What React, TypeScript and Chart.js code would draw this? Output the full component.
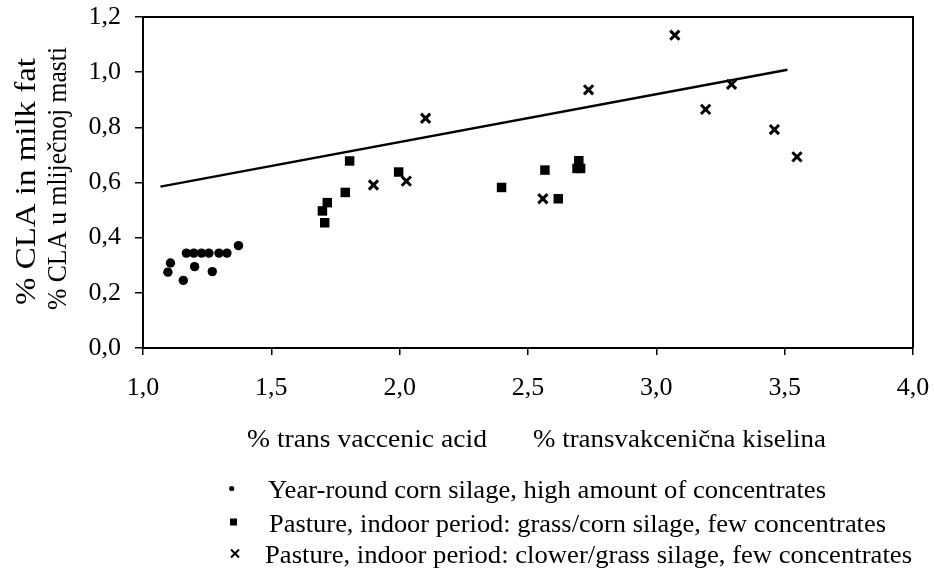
import React, { useEffect, useRef } from 'react';
import { Chart, registerables } from 'chart.js';

Chart.register(...registerables);

// Year-round corn silage, high amount of concentrates (dots)
const dotsX = [1.107, 1.097, 1.157, 1.169, 1.198, 1.228, 1.257, 1.296, 1.327, 1.201, 1.27, 1.372];
const dotsY = [0.308, 0.275, 0.245, 0.344, 0.344, 0.344, 0.344, 0.344, 0.344, 0.295, 0.277, 0.371];

// Pasture, indoor period: grass/corn silage (squares)
const squaresX = [1.805, 1.788, 1.718, 1.699, 1.708, 1.996, 2.397, 2.566, 2.618, 2.698, 2.691, 2.705];
const squaresY = [0.678, 0.564, 0.527, 0.497, 0.454, 0.638, 0.582, 0.645, 0.541, 0.679, 0.651, 0.651];

// Pasture, indoor period: clower/grass silage (crosses)
const crossesX = [1.898, 2.026, 2.101, 2.558, 2.736, 3.072, 3.192, 3.293, 3.46, 3.548];
const crossesY = [0.591, 0.605, 0.833, 0.541, 0.936, 1.134, 0.865, 0.956, 0.792, 0.693];

// Trend line end points
const trendX = [1.068, 3.511];
const trendY = [0.585, 1.009];

const xTickValues = [1.0, 1.5, 2.0, 2.5, 3.0, 3.5, 4.0];
const yTickValues = [0.0, 0.2, 0.4, 0.6, 0.8, 1.0, 1.2];

const yTitleLines = ['% CLA in milk fat', '% CLA u mliječnoj masti'];
const xTitleParts = ['% trans vaccenic acid', '% transvakcenična kiselina'];
const legendLabels = [
  'Year-round corn silage, high amount of concentrates',
  'Pasture, indoor period: grass/corn silage, few concentrates',
  'Pasture, indoor period: clower/grass silage, few concentrates',
];

const SERIF = '"Liberation Serif", "Times New Roman", serif';
const fmt = (v: number) => v.toFixed(1).replace('.', ',');
const toPts = (xs: number[], ys: number[]) => xs.map((x, i) => ({ x, y: ys[i] }));

function drawFitted(
  ctx: CanvasRenderingContext2D,
  text: string,
  x: number,
  y: number,
  target: number,
  font: string,
  align: CanvasTextAlign,
  rotate = false
) {
  ctx.save();
  ctx.font = font;
  const w = ctx.measureText(text).width;
  ctx.translate(x, y);
  if (rotate) ctx.rotate(-Math.PI / 2);
  ctx.textBaseline = 'alphabetic';
  ctx.fillStyle = '#000';
  ctx.scale(target / w, 1);
  ctx.textAlign = align;
  ctx.fillText(text, 0, 0);
  ctx.restore();
}

const decorPlugin = {
  id: 'decor',
  afterDraw(chart: any) {
    const ctx: CanvasRenderingContext2D = chart.ctx;
    const a = chart.chartArea;
    // frame top and right
    ctx.save();
    ctx.strokeStyle = '#000';
    ctx.lineWidth = 2;
    ctx.beginPath();
    ctx.moveTo(a.left, a.top);
    ctx.lineTo(a.right, a.top);
    ctx.lineTo(a.right, a.bottom);
    ctx.stroke();
    ctx.restore();

    // y-axis title (two rotated lines)
    const yMid = (a.top + a.bottom) / 2;
    drawFitted(ctx, yTitleLines[0], 35, yMid - 1, 247, `30px ${SERIF}`, 'center', true);
    drawFitted(ctx, yTitleLines[1], 66, yMid - 4, 263, `27px ${SERIF}`, 'center', true);

    // x-axis title parts
    drawFitted(ctx, xTitleParts[0], 247, 447, 240, `26px ${SERIF}`, 'left');
    drawFitted(ctx, xTitleParts[1], 533, 447, 293, `26px ${SERIF}`, 'left');

    // legend
    ctx.save();
    ctx.fillStyle = '#000';
    ctx.strokeStyle = '#000';
    ctx.beginPath();
    ctx.arc(231.7, 488.5, 2.6, 0, Math.PI * 2);
    ctx.fill();
    ctx.fillRect(230, 518.5, 7, 7);
    ctx.lineWidth = 2;
    ctx.beginPath();
    ctx.moveTo(231, 549.5);
    ctx.lineTo(239, 557.5);
    ctx.moveTo(239, 549.5);
    ctx.lineTo(231, 557.5);
    ctx.stroke();
    ctx.restore();

    drawFitted(ctx, legendLabels[0], 268, 498, 558, `25px ${SERIF}`, 'left');
    drawFitted(ctx, legendLabels[1], 269, 531.5, 617, `25px ${SERIF}`, 'left');
    drawFitted(ctx, legendLabels[2], 265, 563, 647, `25px ${SERIF}`, 'left');
  },
};

export default function App() {
  const ref = useRef<HTMLCanvasElement | null>(null);

  useEffect(() => {
    if (!ref.current) return;
    const chart = new Chart(ref.current, {
      type: 'scatter',
      data: {
        datasets: [
          {
            label: legendLabels[0],
            data: toPts(dotsX, dotsY),
            pointStyle: 'circle',
            pointRadius: 4.7,
            backgroundColor: '#000',
            borderColor: '#000',
            borderWidth: 0,
          },
          {
            label: legendLabels[1],
            data: toPts(squaresX, squaresY),
            pointStyle: 'rect',
            pointRadius: 6.7,
            backgroundColor: '#000',
            borderColor: '#000',
            borderWidth: 0,
          },
          {
            label: legendLabels[2],
            data: toPts(crossesX, crossesY),
            pointStyle: 'crossRot',
            pointRadius: 6.5,
            backgroundColor: '#000',
            borderColor: '#000',
            borderWidth: 3,
          },
          {
            label: 'trend',
            data: toPts(trendX, trendY),
            showLine: true,
            pointRadius: 0,
            borderColor: '#000',
            borderWidth: 2.5,
            backgroundColor: '#000',
          } as any,
        ],
      },
      options: {
        animation: false,
        responsive: false,
        devicePixelRatio: 1,
        layout: { padding: { left: 0, top: 17, right: 21, bottom: 163 } },
        plugins: {
          legend: { display: false },
          tooltip: { enabled: false },
        },
        scales: {
          x: {
            type: 'linear',
            min: 1,
            max: 4,
            afterBuildTicks: (s: any) => {
              s.ticks = xTickValues.map((v) => ({ value: v }));
            },
            afterFit: (s: any) => {
              s.height = 60;
              s.paddingLeft = 0;
              s.paddingRight = 0;
            },
            ticks: {
              callback: (v: any) => fmt(Number(v)),
              font: { family: SERIF, size: 26 },
              color: '#000',
              padding: 18,
              maxRotation: 0,
              autoSkip: false,
            },
            grid: {
              display: true,
              drawOnChartArea: false,
              drawTicks: true,
              tickLength: 7,
              color: '#000',
              lineWidth: 1.5,
            },
            border: { display: true, color: '#000', width: 2 },
          },
          y: {
            type: 'linear',
            min: 0,
            max: 1.2,
            afterBuildTicks: (s: any) => {
              s.ticks = yTickValues.map((v) => ({ value: v }));
            },
            afterFit: (s: any) => {
              s.width = 143;
              s.paddingTop = 0;
              s.paddingBottom = 0;
            },
            ticks: {
              callback: (v: any) => fmt(Number(v)),
              font: { family: SERIF, size: 26 },
              color: '#000',
              padding: 14,
              autoSkip: false,
            },
            grid: {
              display: true,
              drawOnChartArea: false,
              drawTicks: true,
              tickLength: 8,
              color: '#000',
              lineWidth: 1.5,
            },
            border: { display: true, color: '#000', width: 2 },
          },
        },
      },
      plugins: [decorPlugin],
    });
    return () => chart.destroy();
  }, []);

  return (
    <div style={{ position: 'fixed', left: 0, top: 0, width: 934, height: 571, background: '#fff' }}>
      <canvas ref={ref} width={934} height={571} style={{ display: 'block' }} />
    </div>
  );
}
